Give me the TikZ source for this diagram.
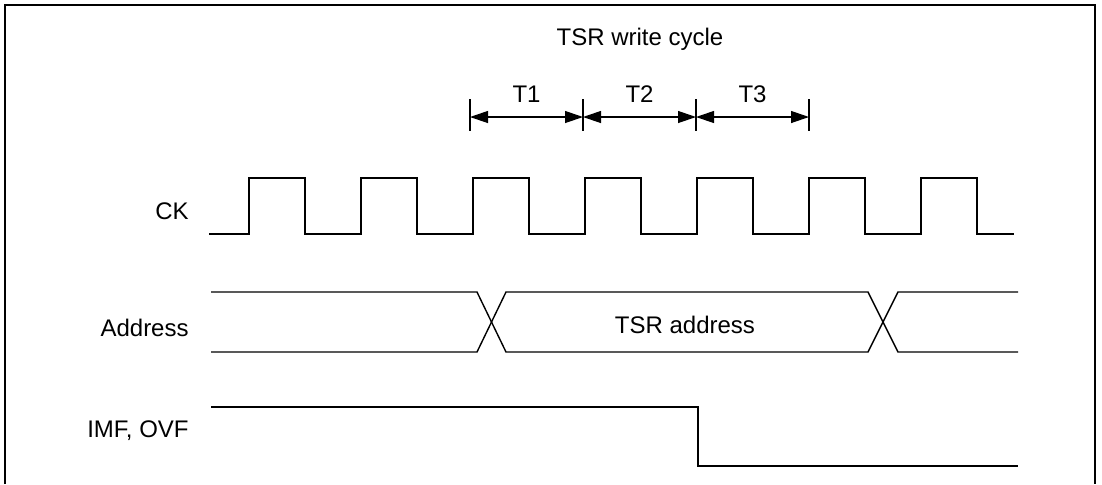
\documentclass[tikz,border=0pt]{standalone}
\usepackage{fontspec}
\setmainfont{Liberation Sans}
\usetikzlibrary{arrows.meta}

\begin{document}
\begin{tikzpicture}[x=0.5pt, y=-0.5pt,
  wave/.style={line width=0.7pt, line join=miter},
  lbl/.style={font=\fontsize{12}{14}\selectfont, inner sep=0pt},
  bar/.style={line width=0.6pt},
  span/.style={{Triangle[length=9pt,width=6pt]}-{Triangle[length=9pt,width=6pt]}, line width=0.6pt}
]
\useasboundingbox (0,0) rectangle (1102,484);
\draw[line width=0.8pt] (5,484) -- (5,5) -- (1095,5) -- (1095,484);

\node[lbl, anchor=base] (title) at (640,45) {TSR write cycle};

% state markers
\foreach \x [count=\i from 0] in {470,583,696,809} {
  \coordinate (t\i) at (\x,117);
  \draw[bar] (\x,99) -- (\x,131);
}
\draw[span] (t0) -- node[lbl, anchor=base, yshift=7.5pt] (lt1) {T1} (t1);
\draw[span] (t1) -- node[lbl, anchor=base, yshift=7.5pt] (lt2) {T2} (t2);
\draw[span] (t2) -- node[lbl, anchor=base, yshift=7.5pt] (lt3) {T3} (t3);

% signal names
\node[lbl, anchor=base east] (ck)   at (189,219) {CK};
\node[lbl, anchor=base east] (addr) at (189,336) {Address};
\node[lbl, anchor=base east] (flg)  at (189,437) {IMF, OVF};

% clock
\draw[wave] (209,234) \foreach \x in {249,361,...,921} {
  -- (\x,234) -- (\x,178) -- (\x+56,178) -- (\x+56,234)
} -- (1014,234);

% address bus
\draw[wave] (211,292) -- (477,292) -- (506,352) -- (868,352) -- (898,292) -- (1018,292);
\draw[wave] (211,352) -- (477,352) -- (506,292) -- (868,292) -- (898,352) -- (1018,352);
\node[lbl, anchor=base] (tsra) at (685,333) {TSR address};

% flags
\draw[wave] (211,407) -- (698,407) -- (698,466) -- (1018,466);
\end{tikzpicture}
\end{document}
